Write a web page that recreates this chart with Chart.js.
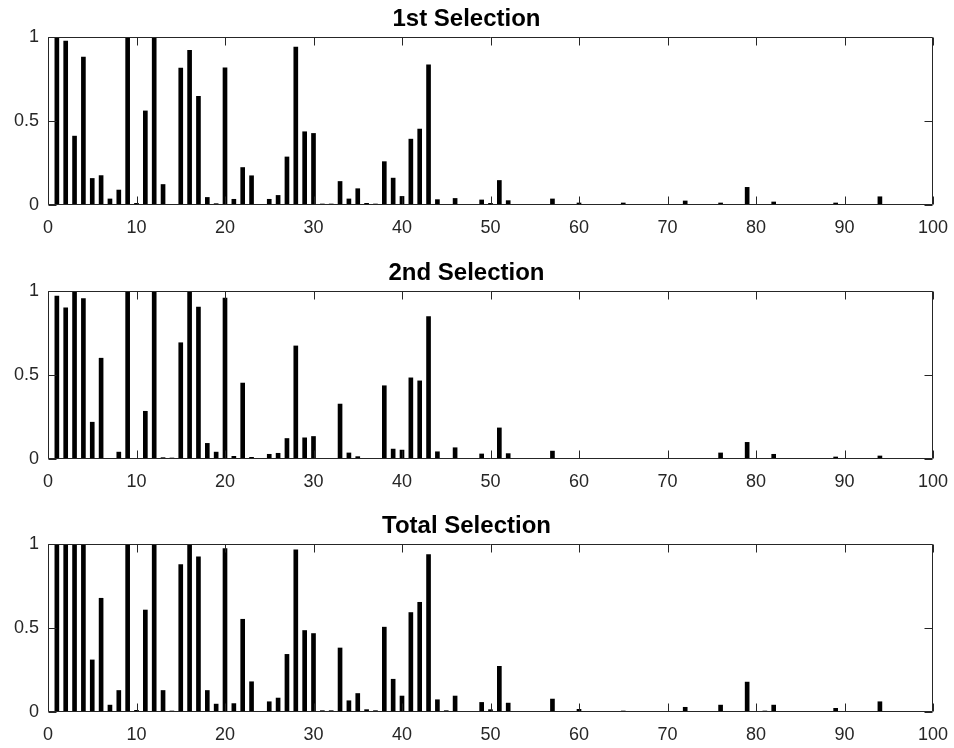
<!DOCTYPE html>
<html>
<head>
<meta charset="utf-8">
<script src="https://cdn.jsdelivr.net/npm/chart.js@4/dist/chart.umd.min.js"></script>
<style>
  html, body { margin: 0; padding: 0; background: #fff; }
  #wrap { position: relative; width: 954px; height: 748px; overflow: hidden; }
  canvas { position: absolute; left: 0; }
</style>
</head>
<body>
<div id="wrap">
  <canvas id="c1" width="954" height="254" style="top:0px"></canvas>
  <canvas id="c2" width="954" height="254" style="top:254px"></canvas>
  <canvas id="c3" width="954" height="254" style="top:507px"></canvas>
</div>
<script>
// ---- DATA ----
const categories = [1,2,3,4,5,6,7,8,9,10,11,12,13,14,15,16,17,18,19,20,
  21,22,23,24,25,26,27,28,29,30,31,32,33,34,35,36,37,38,39,40,
  41,42,43,44,45,46,47,48,49,50,51,52,53,54,55,56,57,58,59,60,
  61,62,63,64,65,66,67,68,69,70,71,72,73,74,75,76,77,78,79,80,
  81,82,83,84,85,86,87,88,89,90,91,92,93,94,95,96,97,98,99];

const titles = ["1st Selection", "2nd Selection", "Total Selection"];

const firstSelection = [
  1.0, 0.976, 0.41, 0.88, 0.158, 0.175, 0.036, 0.089, 1.0, 0.01,
  0.56, 1.0, 0.122, 0, 0.815, 0.92, 0.647, 0.045, 0.008, 0.817,
  0.034, 0.223, 0.174, 0.002, 0.034, 0.057, 0.286, 0.94, 0.436, 0.426,
  0.006, 0.006, 0.14, 0.036, 0.097, 0.01, 0.006, 0.258, 0.16, 0.051,
  0.392, 0.452, 0.834, 0.032, 0.004, 0.039, 0, 0, 0.03, 0.01,
  0.146, 0.026, 0, 0, 0, 0, 0.036, 0, 0, 0.012,
  0, 0, 0, 0, 0.012, 0, 0, 0, 0, 0,
  0, 0.024, 0, 0, 0, 0.012, 0, 0, 0.105, 0,
  0, 0.018, 0, 0, 0, 0, 0, 0, 0.012, 0,
  0, 0, 0, 0.049, 0, 0, 0, 0, 0];

const secondSelection = [
  0.97, 0.90, 1.0, 0.955, 0.219, 0.60, 0.004, 0.041, 1.0, 0,
  0.284, 1.0, 0.008, 0.006, 0.692, 1.0, 0.905, 0.093, 0.041, 0.958,
  0.016, 0.452, 0.01, 0.002, 0.028, 0.034, 0.122, 0.673, 0.126, 0.134,
  0.003, 0.003, 0.327, 0.036, 0.014, 0.003, 0.003, 0.436, 0.059, 0.053,
  0.483, 0.465, 0.848, 0.043, 0.003, 0.067, 0, 0, 0.03, 0,
  0.185, 0.032, 0, 0, 0, 0, 0.047, 0, 0, 0,
  0, 0, 0, 0, 0, 0, 0, 0, 0, 0,
  0, 0, 0, 0, 0, 0.036, 0, 0, 0.099, 0,
  0, 0.028, 0, 0, 0, 0, 0, 0, 0.012, 0,
  0, 0, 0, 0.018, 0, 0, 0, 0, 0];

const totalSelection = [
  1.0, 1.0, 1.0, 1.0, 0.31, 0.677, 0.041, 0.128, 1.0, 0.01,
  0.607, 1.0, 0.128, 0.006, 0.878, 1.0, 0.923, 0.128, 0.047, 0.972,
  0.05, 0.552, 0.18, 0.002, 0.061, 0.083, 0.343, 0.966, 0.485, 0.467,
  0.008, 0.008, 0.381, 0.067, 0.11, 0.014, 0.008, 0.505, 0.195, 0.095,
  0.592, 0.653, 0.937, 0.073, 0.008, 0.095, 0, 0.004, 0.057, 0.014,
  0.272, 0.053, 0, 0, 0, 0, 0.077, 0, 0, 0.016,
  0, 0, 0, 0, 0.006, 0, 0, 0, 0, 0.004,
  0, 0.028, 0, 0, 0, 0.041, 0, 0, 0.178, 0,
  0.006, 0.041, 0, 0, 0, 0, 0, 0, 0.022, 0,
  0, 0, 0, 0.061, 0, 0, 0, 0, 0];

const xTicks = [0, 10, 20, 30, 40, 50, 60, 70, 80, 90, 100];
const yTicks = [0, 0.5, 1];

// ---- RENDERING ----
const AXIS_COLOR = '#262626';
const FONT = "'Liberation Sans', Arial, Helvetica, sans-serif";

const frameTicks = {
  id: 'frameTicks',
  afterDatasetsDraw(chart) {
    const { ctx, chartArea: a, scales } = chart;
    const xs = scales.x, ys = scales.y;
    const L = Math.round(a.left) + 0.5, R = Math.round(a.right) - 0.5;
    const T = Math.round(a.top) + 0.5, B = Math.round(a.bottom) - 0.5;
    const len = 8;
    ctx.save();
    ctx.strokeStyle = AXIS_COLOR;
    ctx.lineWidth = 1;
    ctx.beginPath();
    ctx.rect(L, T, R - L, B - T);
    xTicks.forEach(v => {
      const px = Math.round(xs.getPixelForValue(v)) + 0.5;
      ctx.moveTo(px, B); ctx.lineTo(px, B - len);
      ctx.moveTo(px, T); ctx.lineTo(px, T + len);
    });
    yTicks.forEach(v => {
      const py = Math.round(ys.getPixelForValue(v)) + 0.5;
      ctx.moveTo(L, py); ctx.lineTo(L + len, py);
      ctx.moveTo(R, py); ctx.lineTo(R - len, py);
    });
    ctx.stroke();
    ctx.restore();
  }
};

function makeChart(id, title, values) {
  const pts = categories.map((c, i) => ({ x: c, y: values[i] }));
  new Chart(document.getElementById(id), {
    type: 'bar',
    data: {
      datasets: [{
        data: pts,
        backgroundColor: '#000000',
        borderWidth: 0,
        barThickness: 4,
        grouped: false
      }]
    },
    options: {
      responsive: false,
      animation: false,
      devicePixelRatio: 1,
      layout: { padding: { left: 0, right: 21, top: 0, bottom: 0 } },
      plugins: {
        legend: { display: false },
        tooltip: { enabled: false },
        title: {
          display: true,
          text: title,
          color: '#000000',
          font: { family: FONT, size: 24, weight: 'bold', lineHeight: 1.2 },
          padding: { top: 5, bottom: 3.2 }
        }
      },
      scales: {
        x: {
          type: 'linear',
          offset: false,
          min: 0, max: 100,
          grid: { display: false, drawTicks: false, offset: false },
          border: { display: false },
          ticks: {
            stepSize: 10,
            autoSkip: false,
            maxRotation: 0,
            padding: 12,
            color: AXIS_COLOR,
            font: { family: FONT, size: 18 },
            callback: v => String(+v)
          },
          afterFit(s) { s.height = 49; s.paddingLeft = 0; s.paddingRight = 0; }
        },
        y: {
          min: 0, max: 1,
          grid: { display: false, drawTicks: false },
          border: { display: false },
          ticks: {
            stepSize: 0.5,
            padding: 9,
            color: AXIS_COLOR,
            font: { family: FONT, size: 18 },
            callback: v => String(+v)
          },
          afterFit(s) { s.width = 48; s.paddingTop = 0; s.paddingBottom = 0; }
        }
      }
    },
    plugins: [frameTicks]
  });
}

makeChart('c1', titles[0], firstSelection);
makeChart('c2', titles[1], secondSelection);
makeChart('c3', titles[2], totalSelection);
</script>
</body>
</html>
